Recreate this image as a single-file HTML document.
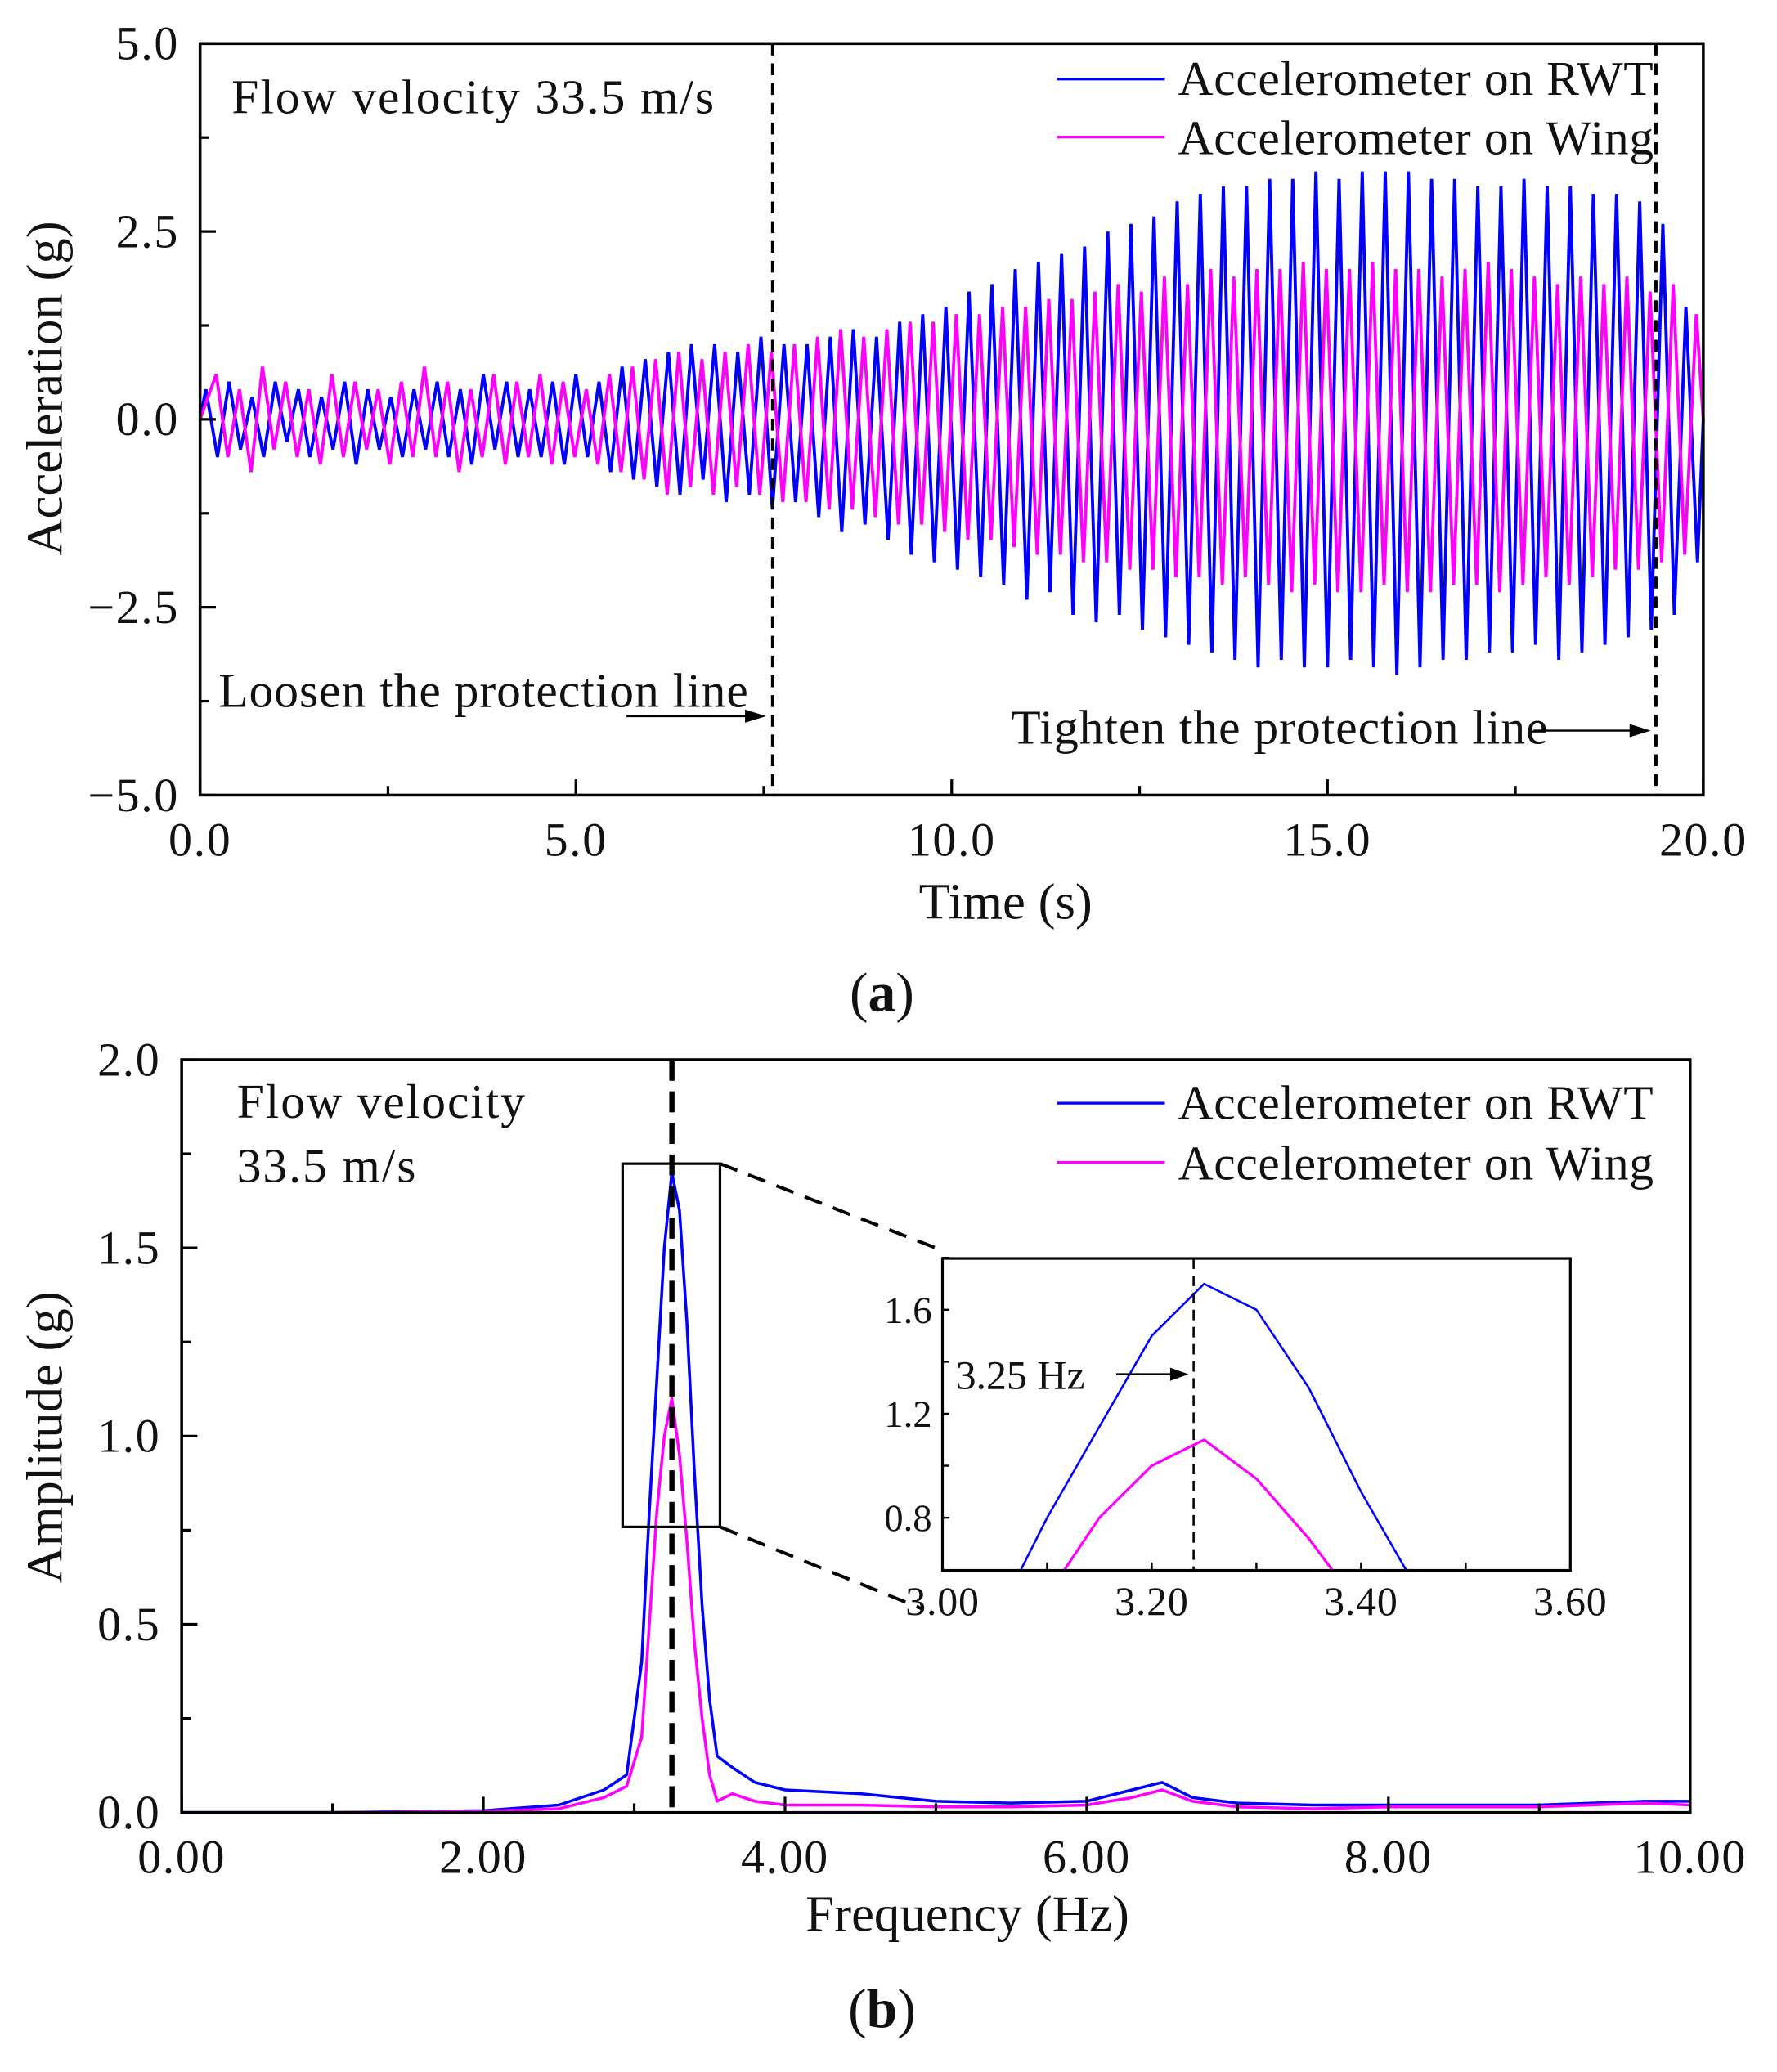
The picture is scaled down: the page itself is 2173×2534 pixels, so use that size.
<!DOCTYPE html>
<html><head><meta charset="utf-8"><style>
html,body{margin:0;padding:0;background:#fff;}
svg{display:block;}
text{font-family:"Liberation Serif",serif;fill:#111;}
</style></head><body>
<svg id="fig" width="2173" height="2534" viewBox="0 0 1350 1574" xmlns="http://www.w3.org/2000/svg">
<g id="chartA"></g>
<g id="chartB"></g>
<g id="inset"></g>
</svg>
<script>
// ---------- data ----------
const freqOsc = 3.25;
const rwtPeaks = [0.4,0.5,0.3,0.5,0.4,0.3,0.5,0.4,0.3,0.4,0.5,0.4,0.6,0.5,0.4,0.5,0.6,0.5,0.7,0.8,0.9,1.0,1.0,0.9,1.1,1.0,1.0,1.1,1.2,1.1,1.3,1.4,1.5,1.7,1.8,2.0,2.1,2.2,2.3,2.5,2.6,2.7,2.9,3.0,3.1,3.1,3.2,3.2,3.3,3.2,3.3,3.3,3.3,3.2,3.2,3.1,3.1,3.2,3.1,3.1,3.0,3.0,2.9,2.6,1.5];
const rwtTroughs = [-0.5,-0.4,-0.5,-0.3,-0.5,-0.4,-0.6,-0.4,-0.5,-0.4,-0.5,-0.6,-0.4,-0.5,-0.5,-0.6,-0.5,-0.7,-0.8,-0.9,-1.0,-0.8,-1.1,-1.0,-1.2,-1.1,-1.3,-1.5,-1.4,-1.6,-1.8,-1.9,-2.0,-2.1,-2.2,-2.4,-2.3,-2.6,-2.7,-2.6,-2.8,-2.9,-3.0,-3.1,-3.2,-3.3,-3.2,-3.3,-3.3,-3.2,-3.3,-3.4,-3.3,-3.2,-3.2,-3.1,-3.1,-3.0,-3.2,-3.1,-3.0,-2.9,-2.8,-2.6,-1.9];
const wingPeaks = [0.6,0.4,0.7,0.5,0.4,0.6,0.5,0.4,0.5,0.7,0.5,0.4,0.6,0.5,0.6,0.5,0.4,0.6,0.7,0.8,0.9,0.8,0.9,1.0,0.9,1.0,1.1,1.2,1.1,1.2,1.3,1.3,1.4,1.4,1.5,1.5,1.6,1.6,1.7,1.8,1.7,1.9,1.8,2.0,1.9,2.0,2.0,2.1,2.0,2.0,2.1,2.0,2.0,1.9,2.0,2.1,2.0,1.9,1.8,1.9,1.8,1.9,1.7,1.8,1.4];
const wingTroughs = [-0.5,-0.7,-0.4,-0.5,-0.6,-0.5,-0.4,-0.6,-0.5,-0.5,-0.7,-0.5,-0.6,-0.5,-0.6,-0.5,-0.6,-0.7,-0.8,-1.0,-0.9,-1.0,-0.9,-1.0,-1.1,-1.1,-1.2,-1.2,-1.3,-1.4,-1.4,-1.5,-1.6,-1.6,-1.7,-1.8,-1.8,-1.9,-1.9,-2.0,-2.0,-2.1,-2.1,-2.2,-2.1,-2.2,-2.3,-2.2,-2.3,-2.3,-2.2,-2.3,-2.3,-2.2,-2.2,-2.3,-2.2,-2.1,-2.2,-2.1,-2.0,-2.0,-1.9,-1.8,-1.4];
const timeTicks = ["0.0","5.0","10.0","15.0","20.0"];
const accTicks = ["5.0","2.5","0.0","\u22122.5","\u22125.0"];

const specFreq = [0,1,2,2.5,2.8,2.95,3.05,3.1,3.15,3.2,3.25,3.3,3.35,3.4,3.45,3.5,3.55,3.65,3.8,4,4.5,5,5.5,6,6.3,6.5,6.7,7,7.5,8,9,9.7,10];
const specRWT  = [0,0,0.005,0.02,0.06,0.1,0.4,0.8,1.15,1.5,1.7,1.6,1.3,0.9,0.55,0.3,0.15,0.12,0.08,0.06,0.05,0.03,0.025,0.03,0.06,0.08,0.04,0.025,0.02,0.02,0.02,0.03,0.03];
const specWing = [0,0,0.003,0.01,0.04,0.07,0.2,0.5,0.8,1.0,1.1,0.95,0.72,0.45,0.25,0.1,0.03,0.05,0.03,0.02,0.02,0.015,0.015,0.02,0.04,0.06,0.03,0.015,0.01,0.015,0.015,0.025,0.02];
const freqTicks = ["0.00","2.00","4.00","6.00","8.00","10.00"];
const ampTicks = ["0.0","0.5","1.0","1.5","2.0"];
const insetXTicks = ["3.00","3.20","3.40","3.60"];
const insetYTicks = ["0.8","1.2","1.6"];

const NS = "http://www.w3.org/2000/svg";
function mk(parent, tag, attrs, txt){const e=document.createElementNS(NS,tag);for(const k in attrs)e.setAttribute(k,attrs[k]);if(txt!==undefined)e.textContent=txt;parent.appendChild(e);return e;}
const TF = 36, LF = 37, AF = 39;

// ---------- chart A ----------
const A = document.getElementById('chartA');
const ax = t => 152 + (t/20)*(1294-152);
const ay = v => 318.5 - (v/5)*(318.5-33);
function oscPath(peaks, troughs, phase){
  let d = "M"+ax(0)+","+ay(0);
  for(let k=0;k<peaks.length;k++){
    const tp=(k+0.25+phase)/freqOsc, tt=(k+0.75+phase)/freqOsc;
    if(tp<=20) d+=" L"+ax(tp).toFixed(1)+","+ay(peaks[k]).toFixed(1);
    if(tt<=20) d+=" L"+ax(tt).toFixed(1)+","+ay(troughs[k]).toFixed(1);
  }
  d+=" L"+ax(20)+","+ay(0);
  return d;
}
let p = mk(A,'path',{d:oscPath(rwtPeaks,rwtTroughs,0),fill:'none',stroke:'#0000ff','stroke-width':2.4});


p = mk(A,'path',{d:oscPath(wingPeaks,wingTroughs,0.45),fill:'none',stroke:'#ff00ff','stroke-width':2.4});


mk(A,'rect',{x:152,y:33,width:1142,height:571,fill:'none',stroke:'#000','stroke-width':2.2,});
for(let i=0;i<=8;i++){const x=ax(i*2.5);mk(A,'line',{x1:x,y1:604,x2:x,y2:i%2?597:592,stroke:'#000','stroke-width':2});}
timeTicks.forEach((s,i)=>{const e=mk(A,'text',{x:ax(i*5),y:650,'font-size':TF,'text-anchor':'middle','letter-spacing':1},s);
});
for(let i=0;i<=8;i++){const y=ay(5-i*1.25);mk(A,'line',{x1:152,y1:y,x2:i%2?159:164,y2:y,stroke:'#000','stroke-width':2});}
accTicks.forEach((s,i)=>{const e=mk(A,'text',{x:136,y:ay(5-i*2.5)+12,'font-size':TF,'text-anchor':'end','letter-spacing':1},s);
});
mk(A,'text',{x:764,y:698,'font-size':AF,'text-anchor':'middle',},'Time (s)');
mk(A,'text',{x:0,y:0,'font-size':AF,'text-anchor':'middle',transform:'translate(47,295) rotate(-90)',},'Acceleration (g)');
mk(A,'text',{x:176,y:86,'font-size':LF,'letter-spacing':1.2,},'Flow velocity 33.5 m/s');
mk(A,'line',{x1:587,y1:33,x2:587,y2:604,stroke:'#000','stroke-width':2.5,'stroke-dasharray':'9,6',});
mk(A,'line',{x1:1258,y1:33,x2:1258,y2:604,stroke:'#000','stroke-width':2.5,'stroke-dasharray':'9,6',});
mk(A,'text',{x:166,y:537,'font-size':LF,'letter-spacing':0.6,},'Loosen the protection line');
mk(A,'line',{x1:476,y1:544,x2:570,y2:544,stroke:'#000','stroke-width':1.5});
mk(A,'path',{d:'M582,544 L566,539 L566,549 Z',fill:'#000'});
mk(A,'text',{x:768,y:565,'font-size':LF,'letter-spacing':0.6,},'Tighten the protection line');
mk(A,'line',{x1:1165,y1:555,x2:1240,y2:555,stroke:'#000','stroke-width':1.5});
mk(A,'path',{d:'M1254,555 L1238,550 L1238,560 Z',fill:'#000'});
mk(A,'rect',{x:800,y:38,width:453,height:92,fill:'#fff',});
mk(A,'line',{x1:803,y1:60,x2:885,y2:60,stroke:'#0000ff','stroke-width':2});
mk(A,'text',{x:895,y:72,'font-size':LF,'letter-spacing':0.4,},'Accelerometer on RWT');
mk(A,'line',{x1:803,y1:104,x2:885,y2:104,stroke:'#ff00ff','stroke-width':2});
mk(A,'text',{x:895,y:117,'font-size':LF,'letter-spacing':0.4,},'Accelerometer on Wing');
const la = mk(A,'text',{x:670,y:768,'font-size':42,'text-anchor':'middle',});
la.innerHTML='(<tspan font-weight="bold">a</tspan>)';

// ---------- chart B ----------
const B = document.getElementById('chartB');
const bx = f => 138 + (f/10)*(1284-138);
const by = v => 1377 - (v/2)*(1377-805);
function specPath(fs, vs, X, Y){return fs.map((f,i)=>(i?'L':'M')+X(f).toFixed(1)+','+Y(vs[i]).toFixed(1)).join(' ');}
p = mk(B,'path',{d:specPath(specFreq,specRWT,bx,by),fill:'none',stroke:'#0000ff','stroke-width':2.2,'stroke-linejoin':'round'});


p = mk(B,'path',{d:specPath(specFreq,specWing,bx,by),fill:'none',stroke:'#ff00ff','stroke-width':2.2,'stroke-linejoin':'round'});


mk(B,'rect',{x:138,y:805,width:1146,height:572,fill:'none',stroke:'#000','stroke-width':2.2,});
for(let i=0;i<=10;i++){const x=bx(i);mk(B,'line',{x1:x,y1:1377,x2:x,y2:i%2?1370:1365,stroke:'#000','stroke-width':2});}
freqTicks.forEach((s,i)=>{const e=mk(B,'text',{x:bx(i*2),y:1423,'font-size':TF,'text-anchor':'middle','letter-spacing':1},s);
});
for(let i=0;i<=8;i++){const y=by(i*0.25);mk(B,'line',{x1:138,y1:y,x2:i%2?145:150,y2:y,stroke:'#000','stroke-width':2});}
ampTicks.forEach((s,i)=>{const e=mk(B,'text',{x:122,y:by(i*0.5)+12,'font-size':TF,'text-anchor':'end','letter-spacing':1},s);
});
mk(B,'text',{x:735,y:1467,'font-size':AF,'text-anchor':'middle',},'Frequency (Hz)');
mk(B,'text',{x:0,y:0,'font-size':AF,'text-anchor':'middle',transform:'translate(47,1092) rotate(-90)',},'Amplitude (g)');
mk(B,'text',{x:180,y:849,'font-size':LF,'letter-spacing':1.2,},'Flow velocity');
mk(B,'text',{x:180,y:898,'font-size':LF,'letter-spacing':1.2,},'33.5 m/s');
mk(B,'line',{x1:bx(3.25),y1:805,x2:bx(3.25),y2:1377,stroke:'#000','stroke-width':4,'stroke-dasharray':'16,8',});
mk(B,'rect',{x:473,y:884,width:74,height:276,fill:'none',stroke:'#000','stroke-width':2,});
mk(B,'line',{x1:547,y1:884,x2:716,y2:950,stroke:'#000','stroke-width':2.5,'stroke-dasharray':'14,9'});
mk(B,'line',{x1:547,y1:1160,x2:700,y2:1222,stroke:'#000','stroke-width':2.5,'stroke-dasharray':'14,9'});
mk(B,'line',{x1:803,y1:838,x2:885,y2:838,stroke:'#0000ff','stroke-width':2});
mk(B,'text',{x:895,y:850,'font-size':LF,'letter-spacing':0.4,},'Accelerometer on RWT');
mk(B,'line',{x1:803,y1:883,x2:885,y2:883,stroke:'#ff00ff','stroke-width':2});
mk(B,'text',{x:895,y:896,'font-size':LF,'letter-spacing':0.4,},'Accelerometer on Wing');
const lb = mk(B,'text',{x:670,y:1540,'font-size':42,'text-anchor':'middle',});
lb.innerHTML='(<tspan font-weight="bold">b</tspan>)';

// ---------- inset ----------
const I = document.getElementById('inset');
const ix = f => 716 + ((f-3.0)/0.6)*(1193-716);
const iy = v => 1153 - ((v-0.8)/0.4)*79;
mk(I,'rect',{x:716,y:956,width:477,height:237,fill:'#fff',stroke:'none'});
mk(I,'clipPath',{id:'ic'});
mk(document.getElementById('ic'),'rect',{x:716,y:956,width:477,height:237});
p = mk(I,'path',{d:specPath(specFreq,specRWT,ix,iy),fill:'none',stroke:'#0000ff','stroke-width':1.6,'stroke-linejoin':'round','clip-path':'url(#ic)'});


p = mk(I,'path',{d:specPath(specFreq,specWing,ix,iy),fill:'none',stroke:'#ff00ff','stroke-width':2,'stroke-linejoin':'round','clip-path':'url(#ic)'});


mk(I,'line',{x1:ix(3.24),y1:956,x2:ix(3.24),y2:1193,stroke:'#000','stroke-width':1.6,'stroke-dasharray':'8,5'});
mk(I,'rect',{x:716,y:956,width:477,height:237,fill:'none',stroke:'#000','stroke-width':2,});
for(let i=0;i<=6;i++){const x=ix(3+i*0.1);mk(I,'line',{x1:x,y1:1193,x2:x,y2:1187,stroke:'#000','stroke-width':1.5});}
insetXTicks.forEach((s,i)=>{const e=mk(I,'text',{x:ix(3+i*0.2),y:1227,'font-size':31,'text-anchor':'middle','letter-spacing':0.5},s);
});
for(let i=0;i<6;i++){const y=iy(0.8+i*0.2);mk(I,'line',{x1:716,y1:y,x2:721,y2:y,stroke:'#000','stroke-width':1.5});}
insetYTicks.forEach((s,i)=>{const e=mk(I,'text',{x:708,y:iy(0.8+i*0.4)+10,'font-size':29,'text-anchor':'end'},s);
});
mk(I,'text',{x:726,y:1055,'font-size':31,},'3.25 Hz');
mk(I,'line',{x1:848,y1:1044,x2:892,y2:1044,stroke:'#000','stroke-width':1.6});
mk(I,'path',{d:'M903,1044 L889,1039 L889,1049 Z',fill:'#000'});
</script>
</body></html>
